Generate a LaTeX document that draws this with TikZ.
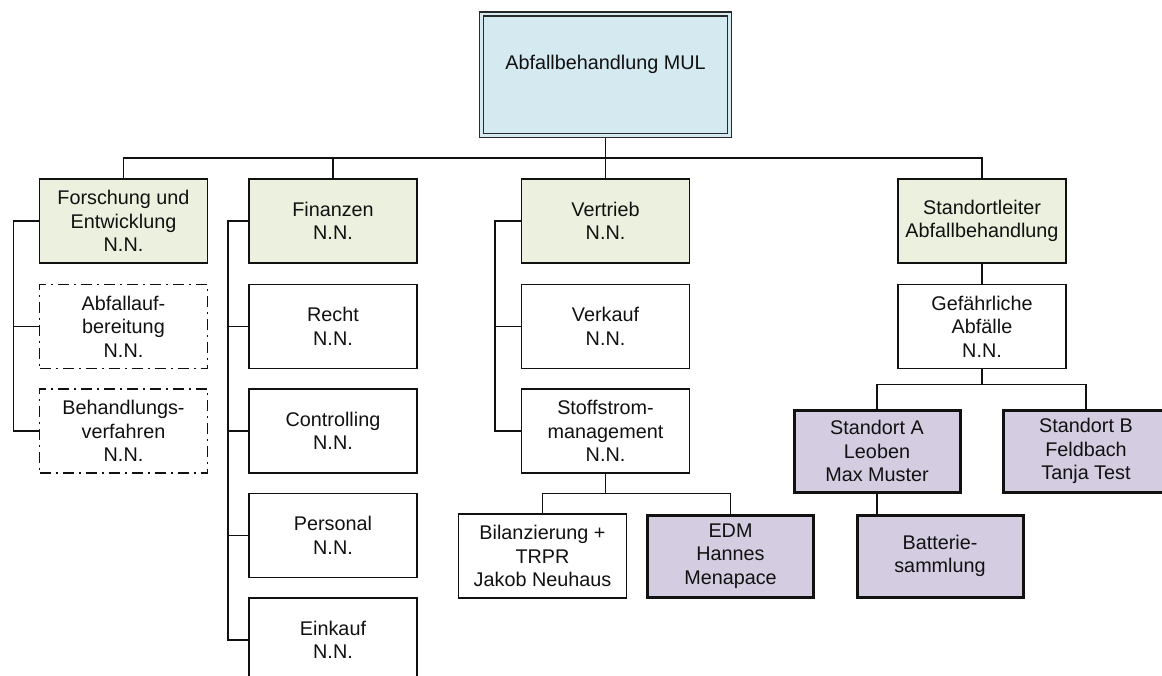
\documentclass[tikz,border=0pt]{standalone}
\usepackage{fontspec}
\setmainfont{Liberation Sans}
\usetikzlibrary{backgrounds}

\definecolor{topblue}{HTML}{D4EAF0}
\definecolor{headgreen}{HTML}{EBF1DE}
\definecolor{sitepurple}{HTML}{D4CCE1}
\definecolor{inkline}{HTML}{111111}

\tikzset{
  box/.style={draw=inkline, line width=1.5pt, minimum width=168pt, minimum height=84pt,
    inner sep=0pt, outer sep=0pt, align=center, text=inkline,
    font=\fontsize{19.8}{23.5}\selectfont},
  headbox/.style={box, fill=headgreen},
  plainbox/.style={box, fill=white},
  vacantbox/.style={box, fill=white, line width=1.3pt, dash pattern=on 11pt off 5pt on 2pt off 5pt},
  sitebox/.style={box, fill=sitepurple, line width=3pt, minimum width=166pt, minimum height=82pt},
  topbox/.style={draw=inkline!90, line width=1.3pt, double=topblue, double distance=2.7pt,
    fill=topblue, minimum width=248.5pt, minimum height=121.5pt, inner sep=0pt, outer sep=0pt,
    text height=14pt, text depth=24pt, text=inkline,
    font=\fontsize{19.8}{23.5}\selectfont},
  conn/.style={draw=inkline, line width=1.6pt},
}

\begin{document}
\begin{tikzpicture}[x=1pt, y=-1pt]
\clip (0,0) rectangle (1162,675);

% head of the organisation
\node[topbox] (top) at (605.5,74.75) {Abfallbehandlung MUL};

% first level
\node[headbox] (fe)  at (123.5,221) {Forschung und\\Entwicklung\\N.N.};
\node[headbox] (fin) at (333,221)   {Finanzen\\N.N.};
\node[headbox] (ver) at (605.5,221) {Vertrieb\\N.N.};
\node[headbox] (sl)  at (982,221)   {Standortleiter\\Abfallbehandlung};

% research and development
\node[vacantbox] (abf) at (123.5,326.5) {Abfallauf-\\bereitung\\N.N.};
\node[vacantbox] (beh) at (123.5,431)   {Behandlungs-\\verfahren\\N.N.};

% finance
\node[plainbox] (recht) at (333,326.5) {Recht\\N.N.};
\node[plainbox] (contr) at (333,431)   {Controlling\\N.N.};
\node[plainbox] (pers)  at (333,535.5) {Personal\\N.N.};
\node[plainbox] (eink)  at (333,640)   {Einkauf\\N.N.};

% sales
\node[plainbox] (verk) at (605.5,326.5) {Verkauf\\N.N.};
\node[plainbox] (sto)  at (605.5,431)   {Stoffstrom-\\management\\N.N.};
\node[plainbox] (bil)  at (542.5,556)   {Bilanzierung +\\TRPR\\Jakob Neuhaus};
\node[sitebox]  (edm)  at (730.5,556)   {EDM\\Hannes\\Menapace};

% sites
\node[plainbox] (gef) at (982,326.5) {Gefährliche\\Abfälle\\N.N.};
\node[sitebox]  (sa)  at (877,451)   {Standort A\\Leoben\\Max Muster};
\node[sitebox]  (sb)  at (1086,451)  {Standort B\\Feldbach\\Tanja Test};
\node[sitebox]  (bat) at (940,556)   {Batterie-\\sammlung};

\begin{scope}[on background layer]
  \fill[white] (0,0) rectangle (1162,675);

  % main bus
  \draw[conn] (top.south) -- ++(0,22.5) coordinate (b0);
  \draw[conn] (fe.north) |- (b0) -| (sl.north);
  \draw[conn] (fin.north) -- (fin.north |- b0);
  \draw[conn] (ver.north) -- (b0);

  % side rail: research and development
  \coordinate (r1) at ([xshift=-26pt]fe.west);
  \draw[conn] (fe.west) -- (r1) |- (beh.west);
  \draw[conn] (r1) |- (abf.west);

  % side rail: finance
  \coordinate (r2) at ([xshift=-21pt]fin.west);
  \draw[conn] (fin.west) -- (r2) |- (eink.west);
  \draw[conn] (r2) |- (recht.west);
  \draw[conn] (r2) |- (contr.west);
  \draw[conn] (r2) |- (pers.west);

  % side rail: sales
  \coordinate (r3) at ([xshift=-26.5pt]ver.west);
  \draw[conn] (ver.west) -- (r3) |- (sto.west);
  \draw[conn] (r3) |- (verk.west);

  % material flow management branches
  \draw[conn] (sto.south) -- ++(0,20.5) coordinate (b3);
  \draw[conn] (bil.north) |- (b3) -| (edm.north);

  % site management chain
  \draw[conn] (sl.south) -- (gef.north);
  \draw[conn] (gef.south) -- ++(0,16) coordinate (b4);
  \draw[conn] (sa.north) |- (b4) -| (sb.north);
  \draw[conn] (sa.south) -- (sa.south |- bat.north);
\end{scope}
\end{tikzpicture}
\end{document}
